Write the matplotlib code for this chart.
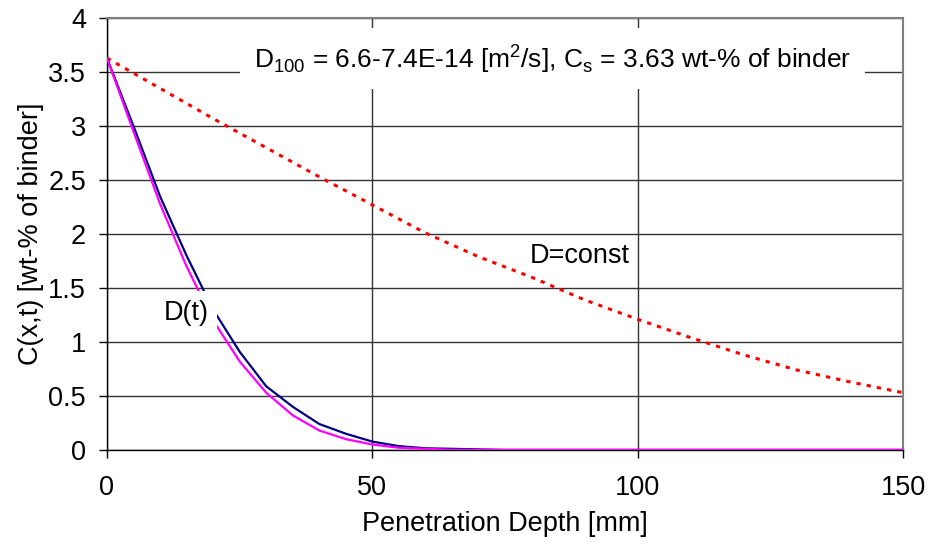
import matplotlib
matplotlib.use('Agg')
import matplotlib.pyplot as plt
import numpy as np

plt.rcParams['font.family'] = ['Liberation Sans', 'DejaVu Sans']
plt.rcParams['mathtext.fontset'] = 'custom'
plt.rcParams['mathtext.rm'] = 'Liberation Sans'

# depth [mm] for the D(t) curves
depth_t = [0, 5, 10, 15, 20, 25, 30, 35, 40, 45, 50, 55, 60, 65, 70, 75, 80,
           90, 100, 110, 120, 130, 140, 150]
c_dt_navy = [3.63, 3.0, 2.35, 1.8, 1.3, 0.91, 0.59, 0.40, 0.24, 0.15, 0.077,
             0.035, 0.015, 0.01, 0.005, 0, 0, 0, 0, 0, 0, 0, 0, 0]
c_dt_magenta = [3.63, 2.95, 2.28, 1.7, 1.2, 0.82, 0.53, 0.32, 0.18, 0.10, 0.05,
                0.02, 0.01, 0.0, 0, 0, 0, 0, 0, 0, 0, 0, 0, 0]

# depth [mm] for D=const
depth_c = [0, 10, 20, 30, 40, 50, 60, 70, 80, 90, 100, 110, 120, 130, 140, 150]
c_const = [3.63, 3.35, 3.07, 2.8, 2.53, 2.27, 2.01, 1.79, 1.6, 1.39, 1.21,
           1.04, 0.88, 0.74, 0.63, 0.53]

fs = 19.5

fig = plt.figure(figsize=(9.3, 5.5), dpi=100)
ax = fig.add_axes([0.115, 0.182, 0.856, 0.785])

ax.plot(depth_c, c_const, color='red', lw=2.2, ls=(0, (1.4, 2.0)), zorder=3)
ax.plot(depth_t, c_dt_navy, color='#000080', lw=1.6, zorder=3)
ax.plot(depth_t, c_dt_magenta, color='#ff00ff', lw=1.6, zorder=4)

ax.set_xlim(0, 150)
ax.set_ylim(0, 4)
ax.set_xticks([0, 50, 100, 150])
ax.set_yticks(np.arange(0, 4.01, 0.5))
ax.set_yticklabels(['0', '0.5', '1', '1.5', '2', '2.5', '3', '3.5', '4'])
ax.grid(True, color='#333333', lw=1, zorder=1)
ax.set_axisbelow(True)

for s in ['top', 'right']:
    ax.spines[s].set_color('#808080')
    ax.spines[s].set_linewidth(1.5)
for s in ['left', 'bottom']:
    ax.spines[s].set_color('black')
    ax.spines[s].set_linewidth(1)

ax.tick_params(axis='both', direction='out', length=6, width=1, labelsize=fs)
ax.tick_params(axis='x', pad=12)
ax.tick_params(axis='y', pad=9)

ax.set_xlabel('Penetration Depth [mm]', fontsize=fs, labelpad=7)
ax.set_ylabel('C(x,t) [wt-% of binder]', fontsize=fs, labelpad=3)

ax.text(84, 3.63, r'D$_{\mathrm{100}}$ = 6.6-7.4E-14 [m$^{\mathrm{2}}$/s], C$_{\mathrm{s}}$ = 3.63 wt-% of binder',
        fontsize=19, ha='center', va='center', zorder=5,
        bbox=dict(facecolor='white', edgecolor='none', pad=10))
ax.text(15, 1.27, 'D(t)', fontsize=fs, ha='center', va='center', zorder=5,
        bbox=dict(facecolor='white', edgecolor='none', pad=6))
ax.text(89, 1.8, 'D=const', fontsize=fs, ha='center', va='center', zorder=5)

fig.savefig('out.png', dpi=100)
